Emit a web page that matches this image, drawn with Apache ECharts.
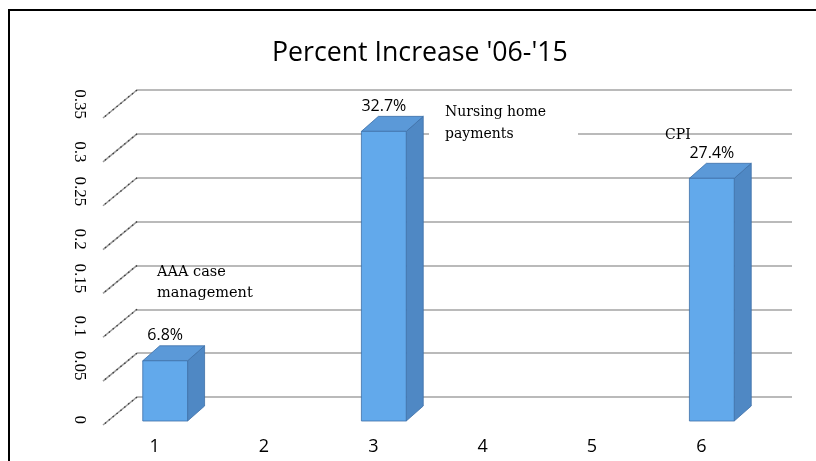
<!DOCTYPE html>
<html><head><meta charset="utf-8">
<script src="https://cdn.jsdelivr.net/npm/echarts@6/dist/echarts.min.js"></script>
<style>html,body{margin:0;padding:0;background:#fff}#c{width:816px;height:461px}</style>
</head><body><div id="c"></div>
<script>
const categories = ['1', '2', '3', '4', '5', '6'];
const values = [0.068, null, 0.327, null, null, 0.274];
const valueLabels = ['6.8%', '', '32.7%', '', '', '27.4%'];
const yTicks = [0, 0.05, 0.1, 0.15, 0.2, 0.25, 0.3, 0.35];
const yTickLabels = ['0', '0.05', '0.1', '0.15', '0.2', '0.25', '0.3', '0.35'];
const annotationAAA = 'AAA case\nmanagement';
const annotationNursing = 'Nursing home\npayments';
const annotationCPI = 'CPI';
const titleText = "Percent Increase '06-'15";

const barData = [];
values.forEach((v, i) => { if (v != null) barData.push([i, v]); });

const chart = echarts.init(document.getElementById('c'), null, { renderer: 'canvas' });

const option = {
  animation: false,
  backgroundColor: '#fff',
  title: {
    text: titleText, left: 267, top: 35,
    textStyle: { fontFamily: 'Open Sans', fontSize: 26.7, fontWeight: 'normal', color: '#000' }
  },
  grid: [
    { left: 137, right: 24, top: 90, bottom: 64 },   // back wall
    { left: 100, right: 60, top: 119, bottom: 37 },  // front plane
    { left: 100, right: 60, top: 111, bottom: 40 }   // bars
  ],
  xAxis: [
    { gridIndex: 0, type: 'category', data: categories, show: false },
    { gridIndex: 1, type: 'category', data: categories,
      axisLine: { show: false }, axisTick: { show: false },
      axisLabel: { color: '#000', fontFamily: 'Open Sans', fontSize: 18, margin: 14 } },
    { gridIndex: 2, type: 'category', data: categories, show: false }
  ],
  yAxis: [
    { gridIndex: 0, type: 'value', min: 0, max: 0.35, interval: 0.05,
      axisLine: { show: false }, axisTick: { show: false }, axisLabel: { show: false },
      splitLine: { show: true, lineStyle: { color: '#a3a3a3', width: 1.6 } } },
    { gridIndex: 1, type: 'value', min: 0, max: 0.35, interval: 0.05,
      axisLine: { show: false }, axisTick: { show: false }, splitLine: { show: false },
      axisLabel: {
        rotate: -90, align: 'right', verticalAlign: 'middle', margin: 21,
        fontFamily: 'Liberation Serif', fontSize: 17, color: '#000',
        formatter: (v) => {
          const k = yTicks.findIndex(t => Math.abs(t - v) < 1e-9);
          return k >= 0 ? yTickLabels[k] : '';
        }
      } },
    { gridIndex: 2, type: 'value', min: 0, max: 0.35, show: false }
  ],
  graphic: [
    { type: 'polyline', z: 5, shape: { points: [[9, 461], [9, 10], [816, 10]] },
      style: { stroke: '#000', lineWidth: 2, fill: null } },
    { type: 'rect', z: 1, shape: { x: 429, y: 108, width: 149, height: 50 }, style: { fill: '#fff' } },
    { type: 'text', z: 1, style: { text: annotationAAA, x: 157, y: 283, verticalAlign: 'middle',
      lineHeight: 21, font: '14.5px "DejaVu Serif"', fill: '#000' } },
    { type: 'text', z: 1, style: { text: annotationNursing, x: 445, y: 123, verticalAlign: 'middle',
      lineHeight: 22, font: '14px "DejaVu Serif"', fill: '#000' } },
    { type: 'text', z: 1, style: { text: annotationCPI, x: 665, y: 135, verticalAlign: 'middle',
      font: '14px "DejaVu Serif"', fill: '#000' } }
  ],
  series: [
    {
      type: 'custom', xAxisIndex: 0, yAxisIndex: 0, clip: false, silent: true,
      data: yTicks.map(t => [0, t]),
      renderItem: (params, api) => {
        const cs = params.coordSys;
        const y = api.coord([0, api.value(1)])[1];
        const x = cs.x;
        return { type: 'group', children: [
          { type: 'line', shape: { x1: x, y1: y, x2: x - 34, y2: y + 28 },
            style: { stroke: '#9a9a9a', lineWidth: 1.5 } },
          { type: 'line', shape: { x1: x, y1: y, x2: x - 34, y2: y + 28 },
            style: { stroke: '#3c3c3c', lineWidth: 1.3, lineDash: [1.5, 3.5] } }
        ] };
      }
    },
    {
      type: 'custom', xAxisIndex: 2, yAxisIndex: 2, clip: false, silent: true, z: 3,
      data: barData,
      renderItem: (params, api) => {
        const ci = api.value(0), v = api.value(1);
        const base = api.coord([ci, 0]);
        const top = api.coord([ci, v]);
        const bw = api.size([1, 0])[0] * 0.41;
        const cx = base[0] + 10.5, hw = bw / 2;
        const dx = 17, dy = -15;
        const L = cx - hw, R = cx + hw, T = top[1], B = base[1];
        const edge = '#3d70a8';
        return { type: 'group', children: [
          { type: 'polygon', shape: { points: [[R, T], [R + dx, T + dy], [R + dx, B + dy], [R, B]] },
            style: { fill: '#4f88c4', stroke: edge, lineWidth: 0.8 } },
          { type: 'polygon', shape: { points: [[L, T], [L + dx, T + dy], [R + dx, T + dy], [R, T]] },
            style: { fill: '#5b99d8', stroke: edge, lineWidth: 0.8 } },
          { type: 'rect', shape: { x: L, y: T, width: R - L, height: B - T },
            style: { fill: '#62a9eb', stroke: edge, lineWidth: 0.8 } },
          { type: 'text', style: { text: valueLabels[ci], x: cx, y: T + dy - 2,
            align: 'center', verticalAlign: 'bottom',
            font: '16px "Open Sans"', fill: '#000' } }
        ] };
      }
    }
  ]
};
chart.setOption(option);
</script>
</body></html>
